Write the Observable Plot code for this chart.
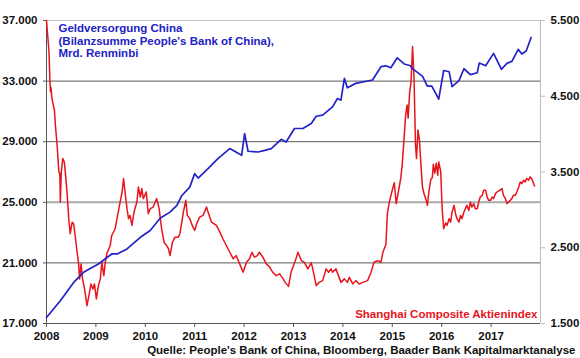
<!DOCTYPE html>
<html>
<head>
<meta charset="utf-8">
<script src="https://cdn.jsdelivr.net/npm/d3@7"></script>
<script src="https://cdn.jsdelivr.net/npm/@observablehq/plot@0.6"></script>
<style>
  body { margin: 0; background: #fff; }
  #chart svg { display: block; overflow: visible; }
</style>
</head>
<body>
<div id="chart"></div>
<script>
// ---- Data ----
// Geldversorgung China (Bilanzsumme PBoC), Mrd. Renminbi – left axis
const blueYears = [2008.00,2008.28,2008.55,2008.75,2009.05,2009.32,2009.43,2009.63,2009.90,2010.10,2010.30,2010.50,2010.64,2010.74,2010.90,2011.00,2011.07,2011.27,2011.47,2011.71,2011.95,2012.01,2012.08,2012.28,2012.42,2012.55,2012.75,2012.85,2013.02,2013.19,2013.36,2013.46,2013.59,2013.79,2013.89,2013.96,2014.03,2014.09,2014.26,2014.60,2014.77,2014.87,2014.97,2015.10,2015.24,2015.37,2015.40,2015.61,2015.71,2015.80,2015.94,2016.04,2016.15,2016.21,2016.35,2016.45,2016.58,2016.72,2016.76,2016.89,2017.05,2017.21,2017.32,2017.42,2017.55,2017.62,2017.71,2017.81];
const blueValues = [17400,18500,19710,20380,20930,21590,21590,21925,22690,23140,23950,24350,24790,25450,26000,26890,26600,27220,27880,28545,28100,29540,28370,28320,28430,28545,29160,28980,29870,29870,30200,30680,30750,31300,31855,31740,33180,32560,32850,33070,33950,34010,33880,34540,34130,34010,33840,33330,32670,32670,31810,33700,33620,32640,33030,33815,33430,33550,34190,34010,34830,33780,34170,34300,35100,34790,34990,35880];

// Shanghai Composite Aktienindex – right axis
const redYears = [2008.00,2008.05,2008.07,2008.08,2008.09,2008.11,2008.15,2008.16,2008.18,2008.22,2008.25,2008.27,
2008.28,2008.30,2008.33,2008.36,2008.38,2008.42,2008.45,2008.48,2008.52,2008.55,2008.58,2008.62,
2008.65,2008.67,2008.70,2008.73,2008.77,2008.82,2008.87,2008.90,2008.94,2008.97,2009.01,2009.05,
2009.09,2009.12,2009.16,2009.19,2009.22,2009.29,2009.32,2009.39,2009.44,2009.49,2009.53,2009.56,
2009.59,2009.63,2009.66,2009.69,2009.73,2009.76,2009.79,2009.83,2009.86,2009.90,2009.93,2009.96,
2010.02,2010.06,2010.10,2010.16,2010.23,2010.28,2010.33,2010.38,2010.43,2010.47,2010.50,2010.55,
2010.60,2010.67,2010.70,2010.74,2010.77,2010.82,2010.85,2010.90,2010.95,2011.00,2011.04,2011.10,
2011.17,2011.24,2011.27,2011.34,2011.44,2011.51,2011.57,2011.64,2011.71,2011.78,2011.84,2011.91,
2011.98,2012.05,2012.11,2012.16,2012.21,2012.27,2012.31,2012.38,2012.45,2012.52,2012.58,2012.65,2012.72,2012.79,2012.83,2012.90,
2012.95,
2013.05,2013.09,2013.16,2013.22,2013.29,2013.36,2013.39,2013.46,2013.52,2013.59,2013.66,2013.71,2013.76,2013.79,2013.86,2013.91,2013.96,
2014.03,2014.09,2014.13,2014.20,2014.26,2014.33,2014.40,2014.50,2014.57,2014.63,2014.70,2014.77,2014.81,2014.87,
2014.90,2014.94,2014.99,2015.04,2015.08,2015.14,2015.17,2015.20,2015.24,2015.27,2015.30,2015.32,2015.35,2015.38,2015.41,
2015.44,2015.47,2015.49,2015.52,2015.55,2015.57,2015.61,2015.64,2015.68,2015.71,2015.74,2015.78,2015.81,2015.83,2015.86,2015.89,2015.92,2015.94,2015.98,
2016.01,2016.04,2016.08,2016.11,2016.15,2016.18,2016.21,2016.25,2016.28,2016.31,2016.35,2016.38,2016.41,2016.45,2016.48,2016.51,2016.55,2016.58,2016.61,2016.65,
2016.68,2016.72,2016.75,2016.78,2016.82,2016.85,2016.89,2016.92,2016.95,2016.99,2017.02,2017.05,2017.09,2017.12,2017.17,2017.22,
2017.25,2017.29,2017.32,2017.35,2017.39,2017.42,2017.45,2017.49,2017.52,2017.56,2017.59,2017.62,2017.66,2017.69,2017.72,2017.76,2017.79,2017.82,2017.86,2017.88];
const redValues = [5500,5091,4693,4561,4614,4474,4341,4319,4120,3811,3501,3480,
3103,3501,3679,3633,3501,3192,2884,2685,2838,2817,2662,2441,
2287,2089,2287,2089,1956,1735,1911,2022,1956,2022,1824,2000,
2089,2308,2132,2308,2420,2530,2662,2751,2927,3103,3236,3414,
3236,3016,2884,2927,2795,2927,3016,3103,3302,3170,3281,3149,
3236,2950,3016,3037,3149,3016,2751,2573,2530,2486,2397,2573,
2640,2640,2685,2838,2971,3126,2927,2884,2795,2728,2817,2905,
2927,3037,2971,2838,2795,2706,2619,2530,2441,2354,2397,2287,
2176,2308,2354,2441,2375,2397,2441,2375,2287,2242,2176,2132,2155,2089,2043,1990,
2176,
2354,2441,2331,2308,2221,2301,2221,2000,2043,2066,2221,2176,2221,2176,2221,2132,2043,
2089,2043,2110,2022,2066,2022,2043,2066,2176,2308,2331,2308,2441,2543,
2950,3103,3236,3358,3082,3302,3414,3590,3961,4252,4385,4209,4540,4693,5157,
4739,3855,3679,4053,3921,3700,3302,3219,3139,3060,3236,3404,3424,3603,3484,3616,3457,3633,3510,
3007,2751,2828,2795,2884,2838,2971,3060,2950,2884,2838,2927,2884,2971,3016,3060,2993,3103,3037,3082,
3016,3016,3103,3170,3192,3258,3258,3170,3126,3126,3170,3149,3215,3236,3258,3281,
3192,3149,3082,3103,3126,3149,3192,3192,3236,3302,3368,3347,3391,3368,3414,3391,3435,3414,3347,3315];

// Axis ticks
const yearTicks = [2008, 2009, 2010, 2011, 2012, 2013, 2014, 2015, 2016, 2017];
const leftTicks = [17000, 21000, 25000, 29000, 33000, 37000];
const rightTicks = [1500, 2500, 3500, 4500, 5500];

// Texts
const titleLines = ["Geldversorgung China", "(Bilanzsumme People's Bank of China),", "Mrd. Renminbi"];
const redLabel = "Shanghai Composite Aktienindex";
const sourceText = "Quelle: People's Bank of China, Bloomberg, Baader Bank Kapitalmarktanalyse";

if (blueYears.length !== blueValues.length || redYears.length !== redValues.length) {
  throw new Error("length mismatch " + blueYears.length + "/" + blueValues.length + " " + redYears.length + "/" + redValues.length);
}

// ---- Build tables ----
const leftDomain = [17000, 37000];
const rightDomain = [1500, 5500];
const k = (leftDomain[1] - leftDomain[0]) / (rightDomain[1] - rightDomain[0]);
const toLeft = v => leftDomain[0] + (v - rightDomain[0]) * k;
const fromLeft = v => rightDomain[0] + (v - leftDomain[0]) / k;

const blue = blueYears.map((t, i) => ({t, v: blueValues[i]}));
const red = redYears.map((t, i) => ({t, v: toLeft(redValues[i])}));

const de = d3.formatLocale({decimal: ",", thousands: ".", grouping: [3], currency: ["", " €"]});
const fmt = de.format(",.0f");

const BLUE = "#2222c6";
const RED = "#e8141c";
const FONT = "'Liberation Sans', Arial, sans-serif";

const chart = Plot.plot({
  width: 580,
  height: 358,
  marginTop: 20,
  marginBottom: 35,
  marginLeft: 46,
  marginRight: 40,
  x: {domain: [2008, 2018], axis: null},
  y: {domain: leftDomain, axis: null},
  style: {fontFamily: FONT, fontSize: "11.5px", fontWeight: "bold", color: "#111", background: "#fff"},
  marks: [
    // gridlines
    Plot.ruleY(leftTicks.filter(d => d !== 25000 && d !== 17000 && d !== 37000), {stroke: "#5a5a5a", strokeWidth: 1}),
    Plot.ruleY([25000], {stroke: "#aaaaaa", strokeWidth: 2}),
    Plot.ruleY([37000], {stroke: "#c4c4c4", strokeWidth: 1}),
    // axis lines
    Plot.ruleX([2018], {stroke: "#bdbdbd", strokeWidth: 1}),
    Plot.ruleX([2008], {stroke: "#555", strokeWidth: 1}),
    Plot.ruleY([17000], {stroke: "#555", strokeWidth: 1}),
    // axes
    Plot.axisX(yearTicks, {tickFormat: d => String(d), tickSize: 4, tickPadding: 4, stroke: "#555", fill: "#111", fontWeight: "bold", label: null}),
    Plot.axisY(leftTicks, {anchor: "left", tickFormat: fmt, tickSize: 3, tickPadding: 6, stroke: "#555", fill: "#111", fontWeight: "bold", label: null}),
    Plot.axisY(rightTicks.map(toLeft), {anchor: "right", tickFormat: d => fmt(fromLeft(d)), tickSize: 4, tickPadding: 6, stroke: "#bdbdbd", fill: "#111", fontWeight: "bold", label: null}),
    // series
    Plot.line(red, {x: "t", y: "v", stroke: RED, strokeWidth: 1.5, curve: "linear"}),
    Plot.line(blue, {x: "t", y: "v", stroke: BLUE, strokeWidth: 1.7, curve: "linear"}),
    // labels
    Plot.text([titleLines.join("\n")], {frameAnchor: "top-left", dx: 12, dy: 3, textAnchor: "start", lineAnchor: "top", lineHeight: 1.09, fill: BLUE, fontWeight: "bold", fontSize: 11.5}),
    Plot.text([redLabel], {frameAnchor: "bottom-right", dx: -3, dy: -6, textAnchor: "end", lineAnchor: "bottom", fill: RED, fontWeight: "bold", fontSize: 11.5}),
    Plot.text([sourceText], {frameAnchor: "bottom-right", dx: 35, dy: 27, textAnchor: "end", lineAnchor: "middle", fill: "#111", fontWeight: "bold", fontSize: 11.5})
  ]
});
document.getElementById("chart").appendChild(chart);
</script>
</body>
</html>
